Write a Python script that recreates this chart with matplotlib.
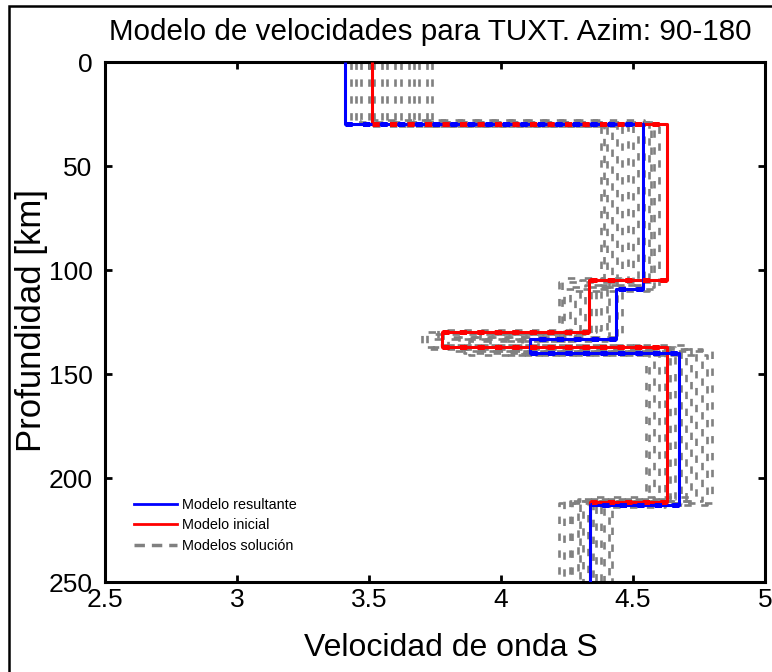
import numpy as np
import matplotlib
matplotlib.use("Agg")
import matplotlib.pyplot as plt
from matplotlib.lines import Line2D
from matplotlib.patches import Rectangle

plt.rcParams['font.family'] = ['Liberation Sans', 'DejaVu Sans']

# ---------------- data ----------------
title = "Modelo de velocidades para TUXT. Azim: 90-180"
xlabel = "Velocidad de onda S"
ylabel = "Profundidad [km]"
xticks = [2.5, 3, 3.5, 4, 4.5, 5]
xticklabels = ["2.5", "3", "3.5", "4", "4.5", "5"]
yticks = [0, 50, 100, 150, 200, 250]
yticklabels = ["0", "50", "100", "150", "200", "250"]

# resulting model (blue): layer boundaries and velocities
res_depth = [0, 30, 109, 133, 140, 213, 250]
res_vel = [3.41, 4.537, 4.434, 4.11, 4.674, 4.337]

# initial model (red)
ini_depth = [0, 30, 105, 130, 137, 211.5, 250]
ini_vel = [3.51, 4.628, 4.333, 3.775, 4.628, 4.337]

# solution models (gray): interface depths d1..d5 and layer velocities v1..v6
sol_depths = [
    [29, 106, 131, 138, 211],
    [30, 108, 132, 139, 212],
    [28, 105, 130, 137, 210],
    [31, 109, 133, 140, 213],
    [30, 107, 131, 139, 212],
    [29, 104, 129, 136, 209],
    [30, 110, 134, 141, 214],
    [31, 106, 132, 138, 211],
    [29, 108, 130, 140, 213],
    [30, 105, 133, 137, 210],
    [28, 107, 131, 139, 212],
    [30, 109, 132, 138, 211],
    [31, 104, 130, 136, 212],
    [29, 106, 134, 141, 213],
]
sol_vels = [
    [3.43, 4.40, 4.22, 3.72, 4.56, 4.24],
    [3.45, 4.44, 4.26, 3.80, 4.60, 4.27],
    [3.47, 4.38, 4.30, 3.70, 4.64, 4.30],
    [3.50, 4.48, 4.24, 3.86, 4.58, 4.33],
    [3.52, 4.52, 4.34, 3.92, 4.68, 4.22],
    [3.55, 4.46, 4.38, 3.76, 4.72, 4.36],
    [3.57, 4.56, 4.28, 4.00, 4.62, 4.39],
    [3.60, 4.42, 4.41, 3.84, 4.76, 4.26],
    [3.62, 4.58, 4.36, 4.08, 4.70, 4.41],
    [3.65, 4.50, 4.44, 3.74, 4.66, 4.29],
    [3.67, 4.54, 4.32, 3.96, 4.80, 4.35],
    [3.69, 4.60, 4.46, 4.14, 4.74, 4.31],
    [3.72, 4.39, 4.23, 3.78, 4.55, 4.38],
    [3.74, 4.57, 4.40, 3.88, 4.78, 4.42],
]
legend_labels = ["Modelo resultante", "Modelo inicial", "Modelos solución"]


def staircase(depth, vel):
    xs = np.repeat(vel, 2)
    ys = np.concatenate([[depth[0]], np.repeat(depth[1:-1], 2), [depth[-1]]])
    return xs, ys


W, H = 772, 672
fig = plt.figure(figsize=(W / 100, H / 100), dpi=100)
ax = fig.add_axes([105 / W, 1 - 582 / H, 660 / W, 520 / H])

# outer border
fig.patches.append(Rectangle((9 / W, -0.2), 2, 1.2 - 6 / H, transform=fig.transFigure,
                             fill=False, lw=1.8, ec='black'))

GRAY = '0.5'
for d, v in zip(sol_depths, sol_vels):
    xs, ys = staircase([0] + d + [250], v)
    ax.plot(xs, ys, color=GRAY, lw=1.9, linestyle=(0, (2.8, 3.6)), zorder=2)

# solid lines of the initial and resulting models
for depth, vel, col in [(ini_depth, ini_vel, 'red'), (res_depth, res_vel, 'blue')]:
    xs, ys = staircase(depth, vel)
    ax.plot(xs, ys, color=col, lw=2.2, zorder=3, solid_capstyle='butt')

# horizontal jumps drawn thick and dashed
for depth, vel, col in [(ini_depth, ini_vel, 'red'), (res_depth, res_vel, 'blue')]:
    for i in range(1, len(vel)):
        ax.plot([vel[i - 1], vel[i]], [depth[i], depth[i]], color=col, lw=3.6,
                linestyle=(0, (1.45, 2.05)), zorder=4)

ax.set_xlim(2.5, 5)
ax.set_ylim(250, 0)
ax.set_xticks(xticks)
ax.set_xticklabels(xticklabels)
ax.set_yticks(yticks)
ax.set_yticklabels(yticklabels)
ax.tick_params(direction='in', length=5, width=2, top=True, right=True, labelsize=19)
ax.tick_params(axis='x', pad=4)
ax.tick_params(axis='y', pad=9)
for s in ax.spines.values():
    s.set_linewidth(2.2)

fig.text(430 / W, 1 - 32 / H, title, ha='center', va='center', fontsize=21.3)
fig.text(451 / W, 1 - 648 / H, xlabel, ha='center', va='center', fontsize=23)
fig.text(32 / W, 1 - 321 / H, ylabel, ha='center', va='center', fontsize=25,
         rotation=90)

handles = [Line2D([], [], color='blue', lw=2),
           Line2D([], [], color='red', lw=2),
           Line2D([], [], color=GRAY, lw=2.5, linestyle=(0, (3, 2)))]
ax.legend(handles, legend_labels, loc='lower left', bbox_to_anchor=(0.035, 0.045),
          frameon=False, fontsize=10.4, handlelength=3.0, handletextpad=0.3,
          labelspacing=0.45, borderaxespad=0)

fig.savefig('out.png', dpi=100)
